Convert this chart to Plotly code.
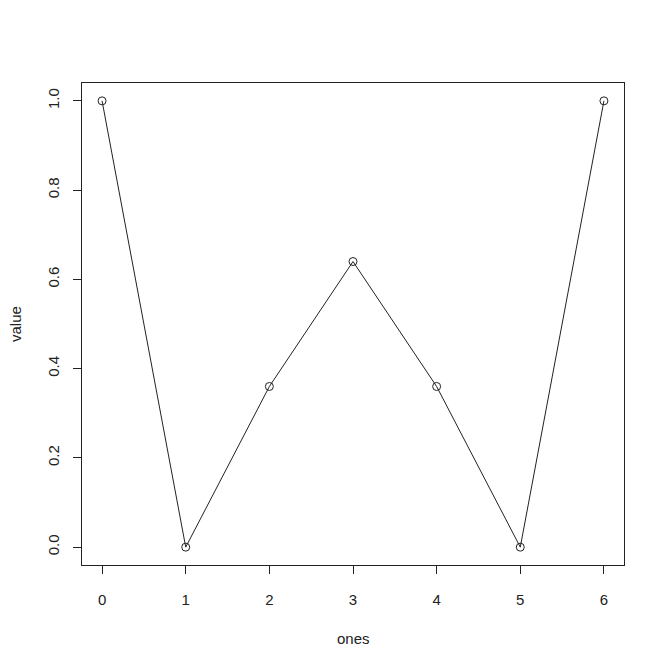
import plotly.graph_objects as go

# values
ones = [0, 1, 2, 3, 4, 5, 6]
value = [1.0, 0.0, 0.36, 0.64, 0.36, 0.0, 1.0]
y_ticks = [0.0, 0.2, 0.4, 0.6, 0.8, 1.0]

FONT = dict(family='Liberation Sans, Arial', size=15, color='#222222')

fig = go.Figure()
fig.add_trace(go.Scatter(
    x=ones, y=value,
    mode='lines+markers',
    line=dict(color='#222222', width=1),
    marker=dict(symbol='circle-open', size=8, color='#222222', line=dict(width=1)),
    showlegend=False,
))

axis_common = dict(
    showgrid=False, zeroline=False,
    showline=True, linecolor='#222222', linewidth=1, mirror=True,
    ticks='outside', ticklen=8, tickcolor='#222222', tickwidth=1,
    tickfont=FONT,
)

# page body has an 8px margin, so the figure is a bit smaller than the window
fig.update_layout(
    width=660, height=660,
    paper_bgcolor='white', plot_bgcolor='white',
    margin=dict(l=74, r=44, t=75, b=103),
    xaxis=dict(range=[-0.24, 6.24], tickvals=ones, ticklabelstandoff=13, **axis_common),
    yaxis=dict(range=[-0.04, 1.04], tickvals=y_ticks, tickformat='.1f',
               tickangle=-90, ticklabelstandoff=8, **axis_common),
    annotations=[
        dict(text='ones', xref='paper', yref='paper', x=0.5, y=0, yshift=-73,
             showarrow=False, yanchor='middle', font=FONT),
        dict(text='value', xref='paper', yref='paper', x=0, y=0.5, xshift=-67,
             showarrow=False, textangle=-90, xanchor='center', font=FONT),
    ],
)

fig.write_html("out.html")
